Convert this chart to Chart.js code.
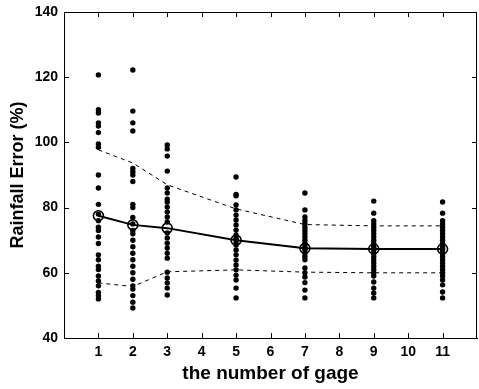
<!DOCTYPE html>
<html>
<head>
<meta charset="utf-8">
<script src="https://cdn.jsdelivr.net/npm/chart.js@4"></script>
<style>
  body { margin: 0; background: #fff; }
</style>
</head>
<body>
<canvas id="errChart" width="479" height="389"></canvas>
<script>
// number of gages used (x positions)
const gageCounts = [1, 2, 3, 5, 7, 9, 11];

// individual rainfall error samples
const errGage1 = [120.7, 110, 109, 106, 105, 103, 99.5, 98.5, 90, 86, 81, 78, 76, 74, 73, 71, 69, 65.5, 64, 62, 61, 59, 57.5, 56, 54, 53, 52];
const errGage2 = [122.2, 109.6, 106, 103.5, 92, 91, 90, 88, 81, 80, 77, 75, 73, 72, 70, 68, 66, 64, 62, 60, 58, 56, 55, 53, 51, 49.2];
const errGage3 = [99.2, 98, 95.8, 91.2, 86, 84.5, 82.6, 81.7, 80.2, 78.7, 77.1, 75.6, 72.2, 70.7, 69.1, 67.6, 66, 64.5, 60.2, 58.4, 56.9, 55.3, 53.2];
const errGage5 = [89.4, 84, 83.6, 80.8, 79.3, 77.7, 76.2, 74.7, 73.1, 71.6, 70.5, 70, 69, 68.5, 67, 65.5, 63.9, 62.4, 60.9, 59.3, 57.8, 55.3, 52.3];
const errGage7 = [84.5, 79.3, 77.1, 76, 75, 74, 73, 72, 71, 70, 69, 68, 67.5, 67, 66, 65, 64, 61.5, 60, 58.7, 57, 54.7, 52.3];
const errGage9 = [82, 78.3, 76, 75, 74, 73, 72, 71, 70, 69, 68, 67.5, 67, 66, 65, 64, 63, 62, 61, 60, 59, 57.2, 55.3, 53.8, 52.3];
const errGage11 = [81.7, 78.3, 76, 75, 74, 73, 72, 71, 70, 69, 68, 67.5, 67, 66, 65, 64, 63, 62, 61, 60, 59, 57.8, 56.3, 54.1, 52.3];

// mean and +/- bands (dashed)
const meanError = [77.5, 74.7, 73.7, 70.0, 67.5, 67.3, 67.3];
const upperBand = [97.7, 93.7, 87.0, 79.6, 74.8, 74.4, 74.4];
const lowerBand = [56.9, 55.8, 60.3, 60.9, 60.2, 60.0, 60.0];

// axis ticks
const xTickLabels = [1, 2, 3, 4, 5, 6, 7, 8, 9, 10, 11];
const yTicks = [40, 60, 80, 100, 120, 140];

const samples = [errGage1, errGage2, errGage3, errGage5, errGage7, errGage9, errGage11];

function toPoints(ys) {
    return gageCounts.map((g, i) => ({ x: g, y: ys[i] }));
}

const scatterPoints = [];
samples.forEach((list, i) => {
    list.forEach(v => scatterPoints.push({ x: gageCounts[i], y: v }));
});

// MATLAB-style box with inward ticks
const boxTicks = {
    id: 'boxTicks',
    afterDraw(chart) {
        const { ctx, chartArea: a, scales } = chart;
        ctx.save();
        ctx.strokeStyle = '#000';
        ctx.lineWidth = 1;
        ctx.beginPath();
        ctx.moveTo(a.left, a.top + 0.5);
        ctx.lineTo(a.right - 0.5, a.top + 0.5);
        ctx.lineTo(a.right - 0.5, a.bottom);
        ctx.stroke();
        const len = 5;
        ctx.beginPath();
        xTickLabels.forEach(v => {
            const px = Math.round(scales.x.getPixelForValue(v)) + 0.5;
            ctx.moveTo(px, a.bottom);
            ctx.lineTo(px, a.bottom - len);
            ctx.moveTo(px, a.top);
            ctx.lineTo(px, a.top + len);
        });
        yTicks.forEach(v => {
            const py = Math.round(scales.y.getPixelForValue(v)) + 0.5;
            ctx.moveTo(a.left, py);
            ctx.lineTo(a.left + len, py);
            ctx.moveTo(a.right, py);
            ctx.lineTo(a.right - len, py);
        });
        ctx.stroke();
        ctx.restore();
    }
};

const tickFont = { family: 'Liberation Sans, Arial, sans-serif', size: 14, weight: 'bold' };
const titleFont = { family: 'Liberation Sans, Arial, sans-serif', size: 18, weight: 'bold' };

new Chart(document.getElementById('errChart').getContext('2d'), {
    type: 'scatter',
    data: {
        datasets: [{
            label: 'samples',
            data: scatterPoints,
            backgroundColor: '#000',
            borderColor: '#000',
            pointRadius: 2.7,
            pointBorderWidth: 0
        }, {
            label: 'mean',
            data: toPoints(meanError),
            showLine: true,
            borderColor: '#000',
            borderWidth: 2,
            pointRadius: 5,
            pointBorderWidth: 1.6,
            pointBackgroundColor: 'rgba(0,0,0,0)',
            pointBorderColor: '#000'
        }, {
            label: 'upper',
            data: toPoints(upperBand),
            showLine: true,
            borderColor: '#000',
            borderWidth: 1,
            borderDash: [4, 4],
            pointRadius: 0
        }, {
            label: 'lower',
            data: toPoints(lowerBand),
            showLine: true,
            borderColor: '#000',
            borderWidth: 1,
            borderDash: [4, 4],
            pointRadius: 0
        }]
    },
    options: {
        responsive: false,
        animation: false,
        layout: { autoPadding: false, padding: { left: 0, top: 12, right: 2, bottom: 0 } },
        plugins: {
            legend: { display: false },
            tooltip: { enabled: false }
        },
        scales: {
            x: {
                type: 'linear',
                min: 0,
                max: 12,
                afterFit: s => {
                    s.height = 51;
                    s.paddingLeft = 0;
                    s.paddingRight = 0;
                },
                ticks: {
                    stepSize: 1,
                    autoSkip: false,
                    maxRotation: 0,
                    padding: 6,
                    color: '#000',
                    font: tickFont,
                    callback: v => xTickLabels.includes(v) ? String(v) : ''
                },
                grid: { drawOnChartArea: false, drawTicks: false },
                border: { display: true, color: '#000', width: 1 },
                title: {
                    display: true,
                    text: 'the number of gage',
                    color: '#000',
                    font: { family: 'Liberation Sans, Arial, sans-serif', size: 19, weight: 'bold' },
                    padding: { top: 0, bottom: 4 }
                }
            },
            y: {
                type: 'linear',
                min: 40,
                max: 140,
                afterFit: s => {
                    s.width = 64;
                    s.paddingTop = 0;
                    s.paddingBottom = 0;
                },
                ticks: {
                    stepSize: 20,
                    padding: 6,
                    color: '#000',
                    font: tickFont
                },
                grid: { drawOnChartArea: false, drawTicks: false },
                border: { display: true, color: '#000', width: 1 },
                title: {
                    display: true,
                    text: 'Rainfall Error (%)',
                    color: '#000',
                    font: titleFont,
                    padding: { top: 7, bottom: 0 }
                }
            }
        }
    },
    plugins: [boxTicks]
});
</script>
</body>
</html>
